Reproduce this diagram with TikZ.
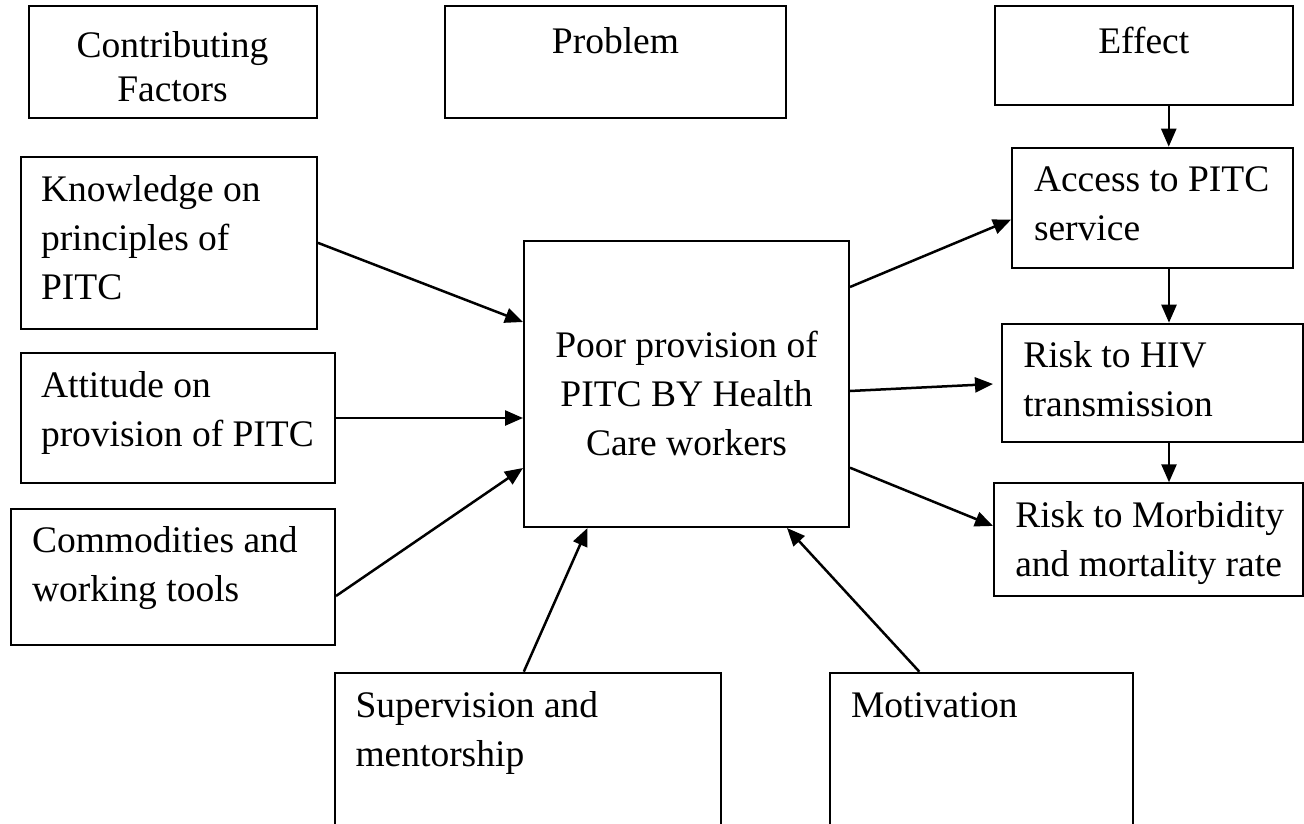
\documentclass[tikz,border=0pt]{standalone}
\usepackage{fontspec}
\setmainfont{Liberation Serif}
\usetikzlibrary{arrows.meta}
\newcommand{\lbox}[5]{\parbox[c][#2][t]{#1}{\raggedright\leftskip=#3\relax\rule{0pt}{#4}#5}}
\newcommand{\cbox}[4]{\parbox[c][#2][t]{#1}{\centering\rule{0pt}{#3}#4}}
\begin{document}
\begin{tikzpicture}[x=1pt,y=-1pt,
  box/.style={draw, line width=2pt, inner sep=0pt, anchor=north west, font=\fontsize{37.5}{49}\selectfont},
  arr/.style={line width=2.5pt, -{Triangle[length=18pt,width=15pt]}}]
\useasboundingbox (0,0) rectangle (1304,824);
% top row
\node[box, font=\fontsize{37.5}{44}\selectfont] (cf) at (27.5,5) {\cbox{288pt}{112pt}{52pt}{Contributing\\Factors}};
\node[box] (pb) at (444,5) {\cbox{341pt}{112pt}{48pt}{Problem}};
\node[box] (ef) at (993.5,5) {\cbox{298.5pt}{99pt}{48pt}{Effect}};
% factors
\node[box] (kn) at (19.6,156) {\lbox{296.4pt}{171.7pt}{20.4pt}{44.7pt}{Knowledge on\\principles of\\PITC}};
\node[box] (att) at (19.6,352) {\lbox{314.4pt}{130pt}{20.4pt}{44.7pt}{Attitude on\\provision of PITC}};
\node[box] (cm) at (9.6,508) {\lbox{324.4pt}{136pt}{21.4pt}{43.7pt}{Commodities and\\working tools}};
% problem
\node[box] (pr) at (523,240) {\cbox{325pt}{286pt}{116.7pt}{Poor provision of\\PITC BY Health\\Care workers}};
% effects
\node[box] (ac) at (1011,146.7) {\lbox{281pt}{120pt}{22pt}{43.3pt}{Access to PITC\\service}};
\node[box] (hv) at (1001,322.7) {\lbox{301pt}{118pt}{21.3pt}{44pt}{Risk to HIV\\transmission}};
\node[box] (mb) at (993,482.3) {\lbox{309pt}{112.7pt}{21.3pt}{43.7pt}{Risk to Morbidity\\and mortality rate}};
% bottom
\node[box] (sv) at (334,671.7) {\lbox{385.6pt}{170pt}{20.5pt}{45pt}{Supervision and\\mentorship}};
\node[box] (mo) at (829,671.7) {\lbox{302.7pt}{170pt}{21pt}{45pt}{Motivation}};
% arrows into problem
\draw[arr] (kn.east) -- ([yshift=62pt]pr.west);
\draw[arr] (att.east) -- (att.east -| pr.west);
\draw[arr] ([yshift=-19pt]cm.east) -- ([yshift=-84pt]pr.west);
\draw[arr] ([xshift=-4pt]sv.north) -- ([xshift=-99pt]pr.south);
\draw[arr] ([xshift=-62pt]mo.north) -- ([xshift=100.5pt]pr.south);
% arrows out of problem
\draw[arr] ([yshift=97pt]pr.east) -- ([yshift=-12pt]ac.west);
\draw[arr] ([yshift=-7pt]pr.east) -- ([xshift=-8pt,yshift=-1.3pt]hv.west);
\draw[arr] ([yshift=-83.7pt]pr.east) -- ([yshift=13.7pt]mb.west);
% effect chain
\draw[arr] ([xshift=25pt]ef.south) -- ([xshift=25pt]ef.south |- ac.north);
\draw[arr] ([xshift=16.5pt]ac.south) -- ([xshift=16.5pt]ac.south |- hv.north);
\draw[arr] ([xshift=16.5pt]hv.south) -- ([xshift=16.5pt]hv.south |- mb.north);
\end{tikzpicture}
\end{document}
